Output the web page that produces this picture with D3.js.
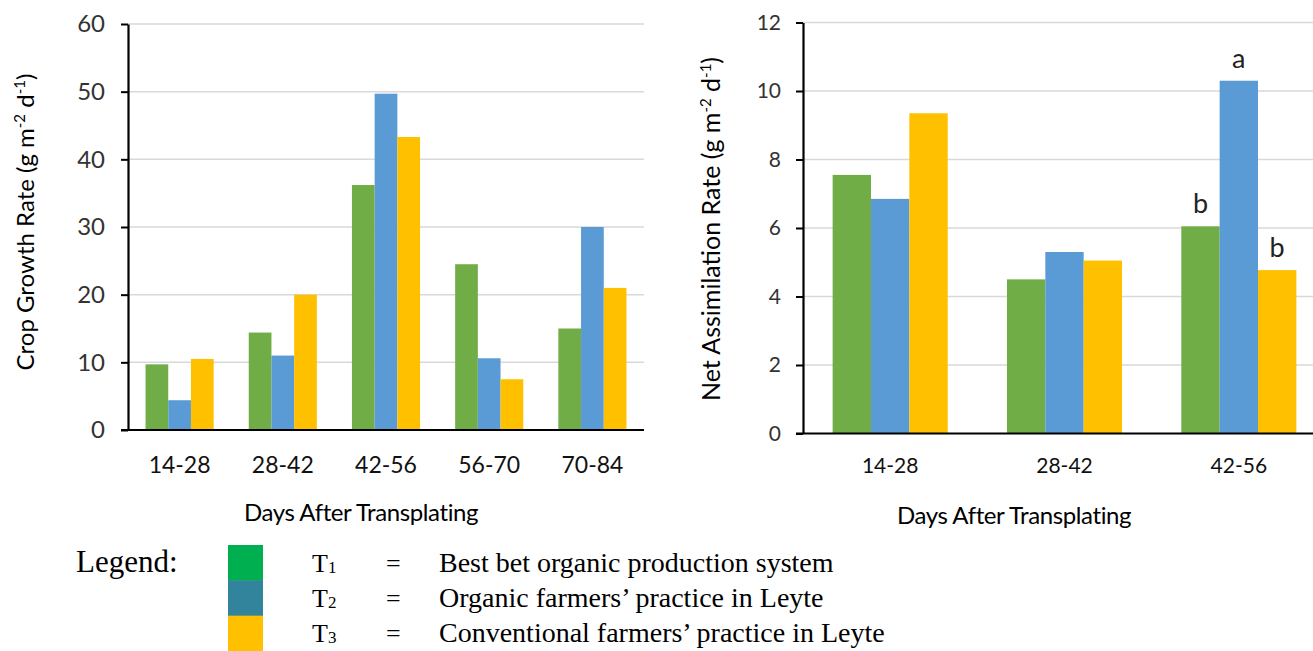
<!DOCTYPE html>
<html><head><meta charset="utf-8">
<script src="https://cdn.jsdelivr.net/npm/d3@7"></script>
<style>body{margin:0;background:#fff;overflow:hidden}</style>
</head><body><svg id="c" width="1313" height="651"></svg>
<script>
const seriesKeys = ["T1", "T2", "T3"];
const barColors = ["#70AD47", "#5B9BD5", "#FFC000"];

const cgrCategories = ["14-28", "28-42", "42-56", "56-70", "70-84"];
const cgrT1 = [9.7, 14.4, 36.2, 24.5, 15.0];
const cgrT2 = [4.4, 11.0, 49.7, 10.6, 30.0];
const cgrT3 = [10.5, 20.0, 43.3, 7.5, 21.0];
const cgrTicks = [0, 10, 20, 30, 40, 50, 60];

const narCategories = ["14-28", "28-42", "42-56"];
const narT1 = [7.55, 4.5, 6.05];
const narT2 = [6.85, 5.3, 10.3];
const narT3 = [9.35, 5.05, 4.77];
const narTicks = [0, 2, 4, 6, 8, 10, 12];
const narLetterCats = ["42-56", "42-56", "42-56"];
const narLetterSeries = [0, 1, 2];
const narLetterText = ["b", "a", "b"];

const legendSubs = ["1", "2", "3"];
const legendLabels = ["Best bet organic production system", "Organic farmers’ practice in Leyte", "Conventional farmers’ practice in Leyte"];
const legendSwatch = ["#00B050", "#31849B", "#FFC000"];

const svg = d3.select("#c");
const FONT = "Lato, 'Open Sans', sans-serif";

function panel(o) {
  const g = svg.append("g");
  const x0 = d3.scaleBand().domain(o.cats).range([o.left, o.right]).padding(0);
  const x1 = d3.scaleBand().domain(seriesKeys).range([x0.bandwidth() * 0.17, x0.bandwidth() * 0.83]).padding(0);
  const y = d3.scaleLinear().domain([0, d3.max(o.ticks)]).range([o.bottom, o.top]);

  g.selectAll("line.grid").data(o.ticks.filter(t => t > 0)).join("line")
    .attr("x1", o.left).attr("x2", o.gridRight)
    .attr("y1", d => y(d)).attr("y2", d => y(d))
    .attr("stroke", "#d9d9d9").attr("stroke-width", 1.5);

  const rows = o.cats.map((c, i) => ({ cat: c, vals: o.series.map(s => s[i]) }));
  const grp = g.selectAll("g.grp").data(rows).join("g")
    .attr("transform", d => `translate(${x0(d.cat)},0)`);
  grp.selectAll("rect").data(d => d.vals.map((v, j) => ({ v, key: seriesKeys[j], j }))).join("rect")
    .attr("x", d => x1(d.key)).attr("width", x1.bandwidth())
    .attr("y", d => y(d.v)).attr("height", d => y(0) - y(d.v))
    .attr("fill", d => barColors[d.j]);

  const ya = g.append("g").attr("transform", `translate(${o.left},0)`)
    .call(d3.axisLeft(y).tickValues(o.ticks).tickSize(7).tickSizeOuter(0).tickPadding(o.yPad));
  ya.select(".domain").attr("stroke", "#000").attr("stroke-width", 2.2);
  ya.selectAll(".tick line").attr("stroke", "#000").attr("stroke-width", 2);
  ya.selectAll(".tick text").attr("font-family", FONT).attr("font-size", o.yFont).attr("fill", "#333");

  const xa = g.append("g").attr("transform", `translate(0,${o.bottom})`)
    .call(d3.axisBottom(x0).tickSize(0).tickPadding(o.xPad));
  xa.select(".domain").attr("d", `M${o.left - 7},0H${o.gridRight}`).attr("stroke", "#000").attr("stroke-width", 2.2);
  xa.selectAll(".tick text").attr("font-family", FONT).attr("font-size", o.xFont).attr("fill", "#111");

  g.append("text").attr("x", o.xTitleX).attr("y", o.xTitleY).attr("text-anchor", "middle")
    .attr("font-family", FONT).attr("font-size", 24).attr("letter-spacing", -0.4).attr("fill", "#000")
    .text("Days After Transplating");

  const yt = g.append("text").attr("transform", `translate(${o.yTitleX},${o.yTitleY}) rotate(-90)`)
    .attr("text-anchor", "middle").attr("font-family", FONT).attr("font-size", o.yTitleFont).attr("fill", "#000");
  yt.append("tspan").text(o.yTitle + " (g m");
  yt.append("tspan").attr("font-size", 15).attr("dy", -9).text("-2");
  yt.append("tspan").attr("dy", 9).text(" d");
  yt.append("tspan").attr("font-size", 15).attr("dy", -9).text("-1");
  yt.append("tspan").attr("dy", 9).text(")");

  return { g, x0, x1, y };
}

panel({
  cats: cgrCategories, series: [cgrT1, cgrT2, cgrT3], ticks: cgrTicks,
  left: 128, right: 644, gridRight: 644, top: 24, bottom: 430,
  yFont: 24, xFont: 23, yPad: 16, xPad: 27,
  xTitleX: 361, xTitleY: 521, yTitleX: 34, yTitleY: 222, yTitleFont: 24,
  yTitle: "Crop Growth Rate"
});

const nar = panel({
  cats: narCategories, series: [narT1, narT2, narT3], ticks: narTicks,
  left: 803, right: 1326, gridRight: 1313, top: 22.5, bottom: 433.5,
  yFont: 21, xFont: 21, yPad: 15, xPad: 25,
  xTitleX: 1014, xTitleY: 524, yTitleX: 720, yTitleY: 229, yTitleFont: 25,
  yTitle: "Net Assimilation Rate"
});

const narSeries = [narT1, narT2, narT3];
nar.g.selectAll("text.letter").data(narLetterText.map((t, i) => ({ t, c: narLetterCats[i], s: narLetterSeries[i] })))
  .join("text").attr("class", "letter")
  .attr("x", d => nar.x0(d.c) + nar.x1(seriesKeys[d.s]) + nar.x1.bandwidth() / 2)
  .attr("y", d => nar.y(narSeries[d.s][narCategories.indexOf(d.c)]) - 13)
  .attr("text-anchor", "middle").attr("font-family", FONT).attr("font-size", 27).attr("fill", "#222")
  .text(d => d.t);

const lg = svg.append("g");
const SERIF = "'Liberation Serif', 'DejaVu Serif', serif";
lg.append("text").attr("x", 76).attr("y", 572).attr("font-family", SERIF).attr("font-size", 31).attr("fill", "#000").text("Legend:");
const rowY = d3.scaleBand().domain(legendLabels).range([545, 651]).padding(0);
lg.selectAll("rect").data(legendLabels).join("rect")
  .attr("x", 228).attr("width", 35)
  .attr("y", d => rowY(d)).attr("height", rowY.bandwidth() + 0.5)
  .attr("fill", (d, i) => legendSwatch[i]);
const rows = lg.selectAll("g.row").data(legendLabels).join("g")
  .attr("transform", d => `translate(0,${rowY(d) + rowY.bandwidth() / 2 + 9})`);
const tt = rows.append("text").attr("x", 312).attr("font-family", SERIF).attr("font-size", 26).attr("fill", "#000");
tt.append("tspan").text("T");
tt.append("tspan").attr("font-size", 17).attr("dy", 1).text((d, i) => legendSubs[i]);
rows.append("text").attr("x", 386).attr("font-family", SERIF).attr("font-size", 26).text("=");
rows.append("text").attr("x", 439).attr("font-family", SERIF).attr("font-size", 28).attr("fill", "#000").text(d => d);
</script></body></html>
